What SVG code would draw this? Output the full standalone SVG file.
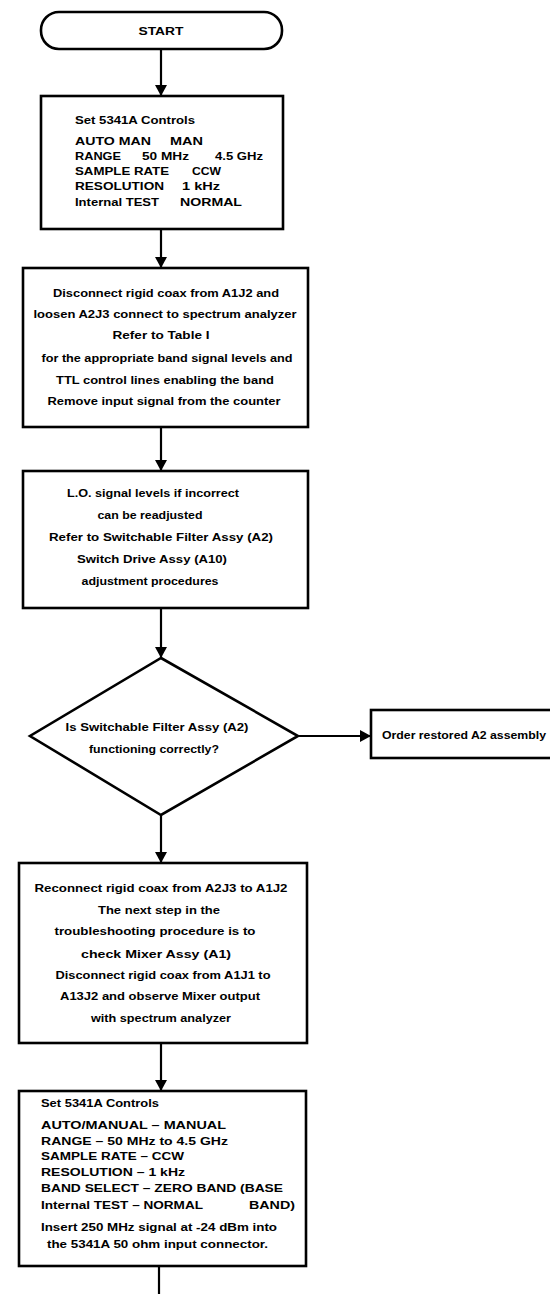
<svg xmlns="http://www.w3.org/2000/svg" width="550" height="1294" viewBox="0 0 550 1294">
  <style>
    .shape { fill: #ffffff; stroke: #000000; stroke-width: 2.6; }
    .link { fill: none; stroke: #000000; stroke-width: 2.2; }
    text { font-family: "Liberation Sans", Arial, sans-serif; font-weight: bold; font-size: 11.5px; fill: #000000; }
    .c { text-anchor: middle; }
  </style>
  <defs>
    <marker id="arrow" markerUnits="userSpaceOnUse" markerWidth="12" markerHeight="12" refX="11" refY="6" orient="auto">
      <path d="M0,0 L11,6 L0,12 z" fill="#000000"/>
    </marker>
  </defs>

  <rect width="550" height="1294" fill="#ffffff"/>

  <!-- connectors -->
  <g id="connectors">
    <line class="link" x1="161" y1="49" x2="161" y2="96" marker-end="url(#arrow)"/>
    <line class="link" x1="161" y1="229" x2="161" y2="268" marker-end="url(#arrow)"/>
    <line class="link" x1="161" y1="427" x2="161" y2="471" marker-end="url(#arrow)"/>
    <line class="link" x1="161" y1="608" x2="161" y2="658" marker-end="url(#arrow)"/>
    <line class="link" x1="298" y1="736" x2="371" y2="736" marker-end="url(#arrow)"/>
    <line class="link" x1="161" y1="815" x2="161" y2="863" marker-end="url(#arrow)"/>
    <line class="link" x1="161" y1="1043" x2="161" y2="1091" marker-end="url(#arrow)"/>
    <line class="link" x1="159" y1="1266" x2="159" y2="1294"/>
  </g>

  <!-- start terminal -->
  <g id="start">
    <rect class="shape" x="41" y="12" width="241" height="37" rx="18" ry="18"/>
    <text class="c" x="161" y="35" textLength="45" lengthAdjust="spacingAndGlyphs">START</text>
  </g>

  <!-- counter front-panel settings -->
  <g id="set-controls-1">
    <rect class="shape" x="41" y="96" width="242" height="133"/>
    <text x="75" y="124" textLength="120" lengthAdjust="spacingAndGlyphs">Set 5341A Controls</text>
    <text x="75" y="145" textLength="76" lengthAdjust="spacingAndGlyphs">AUTO MAN</text>
    <text x="170" y="145" textLength="33" lengthAdjust="spacingAndGlyphs">MAN</text>
    <text x="75" y="160" textLength="46" lengthAdjust="spacingAndGlyphs">RANGE</text>
    <text x="142" y="160" textLength="47" lengthAdjust="spacingAndGlyphs">50 MHz</text>
    <text x="215" y="160" textLength="48" lengthAdjust="spacingAndGlyphs">4.5 GHz</text>
    <text x="75" y="175" textLength="94" lengthAdjust="spacingAndGlyphs">SAMPLE RATE</text>
    <text x="192" y="175" textLength="29" lengthAdjust="spacingAndGlyphs">CCW</text>
    <text x="75" y="190" textLength="89" lengthAdjust="spacingAndGlyphs">RESOLUTION</text>
    <text x="182" y="190" textLength="38" lengthAdjust="spacingAndGlyphs">1 kHz</text>
    <text x="75" y="206" textLength="84" lengthAdjust="spacingAndGlyphs">Internal TEST</text>
    <text x="180" y="206" textLength="62" lengthAdjust="spacingAndGlyphs">NORMAL</text>
  </g>

  <g id="disconnect-coax">
    <rect class="shape" x="23" y="268" width="285" height="159"/>
    <text class="c" x="166" y="297" textLength="226" lengthAdjust="spacingAndGlyphs">Disconnect rigid coax from A1J2 and</text>
    <text class="c" x="165" y="318" textLength="263" lengthAdjust="spacingAndGlyphs">loosen A2J3 connect to spectrum analyzer</text>
    <text class="c" x="161" y="339" textLength="97" lengthAdjust="spacingAndGlyphs">Refer to Table I</text>
    <text class="c" x="167" y="362" textLength="251" lengthAdjust="spacingAndGlyphs">for the appropriate band signal levels and</text>
    <text class="c" x="165" y="384" textLength="218" lengthAdjust="spacingAndGlyphs">TTL control lines enabling the band</text>
    <text class="c" x="164" y="405" textLength="233" lengthAdjust="spacingAndGlyphs">Remove input signal from the counter</text>
  </g>

  <g id="lo-levels">
    <rect class="shape" x="23" y="471" width="285" height="137"/>
    <text class="c" x="153" y="497" textLength="172" lengthAdjust="spacingAndGlyphs">L.O. signal levels if incorrect</text>
    <text class="c" x="150" y="519" textLength="105" lengthAdjust="spacingAndGlyphs">can be readjusted</text>
    <text class="c" x="161" y="541" textLength="224" lengthAdjust="spacingAndGlyphs">Refer to Switchable Filter Assy (A2)</text>
    <text class="c" x="152" y="563" textLength="150" lengthAdjust="spacingAndGlyphs">Switch Drive Assy (A10)</text>
    <text class="c" x="150" y="585" textLength="137" lengthAdjust="spacingAndGlyphs">adjustment procedures</text>
  </g>

  <g id="filter-ok">
    <polygon class="shape" points="161,658 298,736 161,815 30,736"/>
    <text class="c" x="157" y="731" textLength="183" lengthAdjust="spacingAndGlyphs">Is Switchable Filter Assy (A2)</text>
    <text class="c" x="154" y="753" textLength="130" lengthAdjust="spacingAndGlyphs">functioning correctly?</text>
  </g>

  <g id="order-a2">
    <rect class="shape" x="371" y="710" width="185" height="48"/>
    <text x="382" y="739" textLength="164" lengthAdjust="spacingAndGlyphs">Order restored A2 assembly</text>
  </g>

  <g id="check-mixer">
    <rect class="shape" x="19" y="863" width="288" height="180"/>
    <text class="c" x="161" y="892" textLength="253" lengthAdjust="spacingAndGlyphs">Reconnect rigid coax from A2J3 to A1J2</text>
    <text class="c" x="159" y="914" textLength="122" lengthAdjust="spacingAndGlyphs">The next step in the</text>
    <text class="c" x="155" y="935" textLength="201" lengthAdjust="spacingAndGlyphs">troubleshooting procedure is to</text>
    <text class="c" x="156" y="958" textLength="150" lengthAdjust="spacingAndGlyphs">check Mixer Assy (A1)</text>
    <text class="c" x="163" y="979" textLength="215" lengthAdjust="spacingAndGlyphs">Disconnect rigid coax from A1J1 to</text>
    <text class="c" x="160" y="1000" textLength="200" lengthAdjust="spacingAndGlyphs">A13J2 and observe Mixer output</text>
    <text class="c" x="161" y="1022" textLength="140" lengthAdjust="spacingAndGlyphs">with spectrum analyzer</text>
  </g>

  <g id="set-controls-2">
    <rect class="shape" x="19" y="1091" width="287" height="175"/>
    <text x="41" y="1107" textLength="118" lengthAdjust="spacingAndGlyphs">Set 5341A Controls</text>
    <text x="41" y="1129" textLength="185" lengthAdjust="spacingAndGlyphs">AUTO/MANUAL – MANUAL</text>
    <text x="41" y="1145" textLength="187" lengthAdjust="spacingAndGlyphs">RANGE – 50 MHz to 4.5 GHz</text>
    <text x="41" y="1160" textLength="143" lengthAdjust="spacingAndGlyphs">SAMPLE RATE – CCW</text>
    <text x="41" y="1176" textLength="144" lengthAdjust="spacingAndGlyphs">RESOLUTION – 1 kHz</text>
    <text x="41" y="1192" textLength="242" lengthAdjust="spacingAndGlyphs">BAND SELECT – ZERO BAND (BASE</text>
    <text x="41" y="1209" textLength="162" lengthAdjust="spacingAndGlyphs">Internal TEST – NORMAL</text>
    <text x="249" y="1209" textLength="46" lengthAdjust="spacingAndGlyphs">BAND)</text>
    <text x="41" y="1231" textLength="236" lengthAdjust="spacingAndGlyphs">Insert 250 MHz signal at -24 dBm into</text>
    <text x="47" y="1248" textLength="221" lengthAdjust="spacingAndGlyphs">the 5341A 50 ohm input connector.</text>
  </g>
</svg>
